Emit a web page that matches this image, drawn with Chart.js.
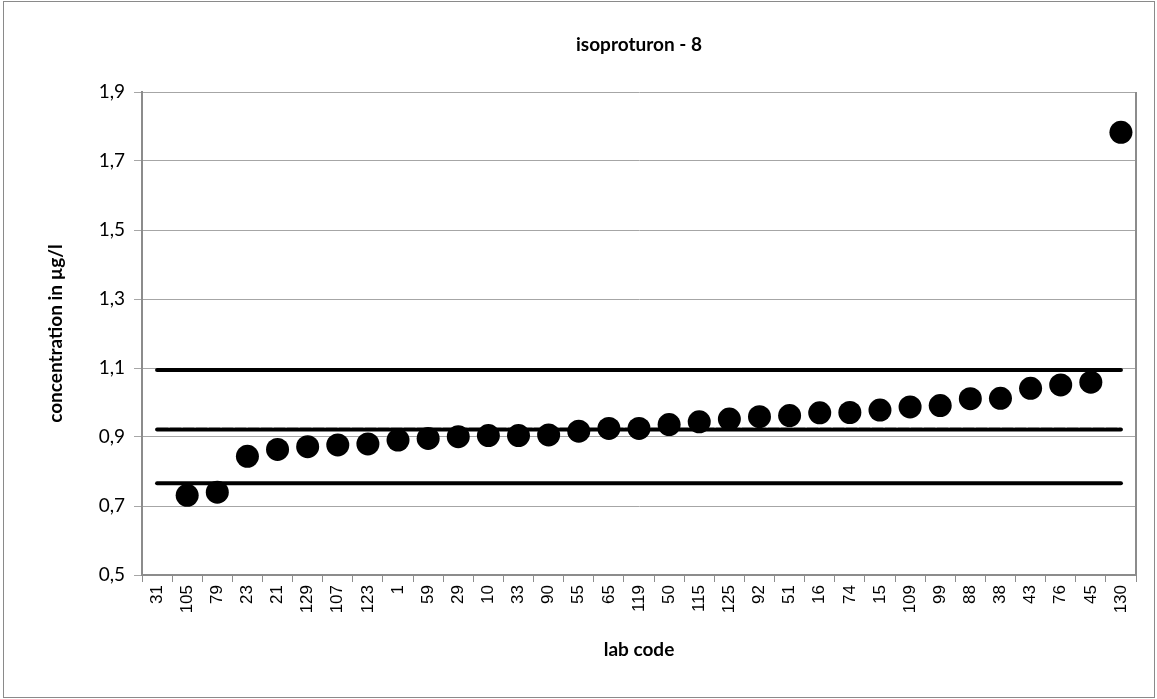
<!DOCTYPE html>
<html>
<head>
<meta charset="utf-8">
<script src="https://cdn.jsdelivr.net/npm/chart.js@4/dist/chart.umd.min.js"></script>
<style>
  html, body { margin: 0; padding: 0; background: #fff; }
  #wrap { width: 1157px; height: 699px; position: relative; }
</style>
</head>
<body>
<div id="wrap"><canvas id="c" width="1157" height="699"></canvas></div>
<script>
const labCodes = ['31','105','79','23','21','129','107','123','1','59','29','10','33','90','55','65','119','50','115','125','92','51','16','74','15','109','99','88','38','43','76','45','130'];
const concentrations = [null,0.731,0.740,0.844,0.864,0.872,0.877,0.880,0.891,0.896,0.901,0.904,0.904,0.906,0.917,0.925,0.925,0.936,0.944,0.952,0.959,0.962,0.970,0.971,0.978,0.987,0.991,1.011,1.012,1.041,1.051,1.059,1.783];
const upperLimit = 1.094;
const assignedValue = 0.922;
const lowerLimit = 0.766;
const yTicks = [0.5, 0.7, 0.9, 1.1, 1.3, 1.5, 1.7, 1.9];
const chartTitle = 'isoproturon - 8';

const firstLab = labCodes[0];
const lastLab = labCodes[labCodes.length - 1];
function hLine(v) { return [{x: firstLab, y: v}, {x: lastLab, y: v}]; }

const frame = {
  id: 'frame',
  beforeDraw(chart) {
    const ctx = chart.ctx;
    ctx.save();
    ctx.fillStyle = '#ffffff';
    ctx.fillRect(0, 0, chart.width, chart.height);
    ctx.strokeStyle = '#8a8a8a';
    ctx.lineWidth = 1;
    ctx.strokeRect(3.5, 1.5, chart.width - 6, chart.height - 3);
    ctx.restore();
  },
  beforeDatasetsDraw(chart) {
    const a = chart.chartArea, ctx = chart.ctx;
    ctx.save();
    ctx.strokeStyle = '#8c8c8c';
    ctx.lineWidth = 2;
    ctx.beginPath();
    ctx.moveTo(a.right, a.top);
    ctx.lineTo(a.right, a.bottom);
    ctx.stroke();
    ctx.restore();
  }
};

const lineStyle = (data, dash) => ({
  type: 'line', data, borderColor: '#000', borderWidth: 4, borderCapStyle: 'round',
  borderDash: dash || [], pointRadius: 0, pointHoverRadius: 0, fill: false, order: 2
});

new Chart(document.getElementById('c'), {
  type: 'line',
  data: {
    labels: labCodes,
    datasets: [
      {
        label: 'results', data: concentrations, showLine: false,
        pointRadius: 11.5, pointHoverRadius: 11.5, pointBackgroundColor: '#000', pointBorderColor: '#000',
        pointBorderWidth: 0, order: 1
      },
      lineStyle(hLine(upperLimit)),
      lineStyle(hLine(assignedValue), [11, 2]),
      lineStyle(hLine(lowerLimit))
    ]
  },
  options: {
    responsive: false,
    animation: false,
    devicePixelRatio: 1,
    layout: { padding: { left: 10, right: 21, top: 10, bottom: 10 } },
    plugins: {
      legend: { display: false },
      tooltip: { enabled: false },
      title: { display: false }
    },
    scales: {
      x: {
        type: 'category',
        offset: true,
        grid: { offset: true, drawOnChartArea: false, drawTicks: true, tickLength: 7, color: '#8c8c8c', lineWidth: 1 },
        border: { display: true, color: '#8c8c8c', width: 2 },
        ticks: {
          autoSkip: false, maxRotation: 90, minRotation: 90, color: '#000', padding: 3,
          font: { family: 'Liberation Sans', size: 17 }
        },
        title: {
          display: true, text: 'lab code', color: '#000',
          font: { family: 'Lato', size: 19, weight: 'bold' },
          padding: { top: 0, bottom: 28 }
        },
        afterFit(s) { s.height = 114; }
      },
      xTop: {
        type: 'category',
        position: 'top',
        offset: true,
        grid: { display: false, drawTicks: false },
        border: { display: false },
        ticks: { display: false },
        title: {
          display: true, text: chartTitle, color: '#000',
          font: { family: 'Lato', size: 19, weight: 'bold' },
          padding: { top: 23, bottom: 0 }
        },
        afterFit(s) { s.height = 82; }
      },
      y: {
        min: 0.5, max: 1.9,
        afterBuildTicks(s) { s.ticks = yTicks.map(v => ({ value: v })); },
        grid: { color: '#a6a6a6', lineWidth: 1, tickLength: 8, drawTicks: true },
        border: { display: true, color: '#8c8c8c', width: 2 },
        ticks: {
          color: '#000', padding: 9,
          font: { family: 'Lato', size: 19 },
          callback: v => v.toFixed(1).replace('.', ',')
        },
        title: {
          display: true, text: 'concentration in µg/l', color: '#000',
          font: { family: 'Lato', size: 19, weight: 'bold' },
          padding: { top: 34, bottom: 0 }
        },
        afterFit(s) { s.width = 132; }
      }
    }
  },
  plugins: [frame]
});
</script>
</body>
</html>
